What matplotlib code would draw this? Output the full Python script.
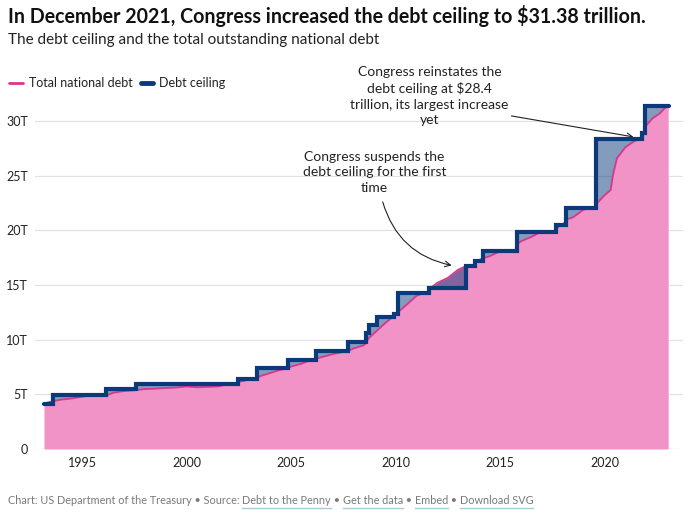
import numpy as np
import matplotlib
matplotlib.use("Agg")
import matplotlib.pyplot as plt
from matplotlib.lines import Line2D

# ---------------- data ----------------
debt_dates = [1993.18, 1993.5, 1994.0, 1994.5, 1995.0, 1995.5, 1996.0, 1996.17, 1996.5, 1997.0,
              1997.5, 1998.0, 1998.5, 1999.0, 1999.5, 2000.0, 2000.5, 2001.0, 2001.5, 2002.0,
              2002.42, 2002.55, 2003.0, 2003.36, 2003.5, 2004.0, 2004.5, 2004.87, 2005.0, 2005.5,
              2006.0, 2006.2, 2006.5, 2007.0, 2007.5, 2007.72, 2008.0, 2008.5, 2008.75, 2009.0,
              2009.5, 2010.0, 2010.5, 2011.0, 2011.37, 2011.58, 2011.7, 2012.0, 2012.5, 2013.0,
              2013.38, 2013.78, 2013.85, 2014.0, 2014.2, 2014.5, 2015.0, 2015.2, 2015.82, 2015.87,
              2016.0, 2016.5, 2017.0, 2017.2, 2017.68, 2017.75, 2018.0, 2018.2, 2018.5, 2019.0,
              2019.2, 2019.58, 2019.65, 2020.0, 2020.3, 2020.4, 2020.6, 2021.0, 2021.3, 2021.6,
              2021.8, 2021.9, 2022.0, 2022.3, 2022.65, 2022.9, 2023.05]
debt_values = [4.15, 4.33, 4.52, 4.62, 4.78, 4.92, 4.97, 4.9, 5.15, 5.3,
               5.37, 5.48, 5.52, 5.58, 5.62, 5.72, 5.65, 5.68, 5.72, 5.92,
               5.95, 6.15, 6.35, 6.4, 6.65, 6.95, 7.25, 7.38, 7.55, 7.8,
               8.17, 8.27, 8.42, 8.68, 8.87, 8.96, 9.2, 9.5, 10.2, 10.63,
               11.5, 12.3, 13.15, 14.0, 14.29, 14.34, 14.75, 15.2, 15.65, 16.4,
               16.74, 16.74, 17.08, 17.3, 17.45, 17.63, 18.08, 18.15, 18.15, 18.8,
               19.0, 19.4, 19.9, 19.85, 19.85, 20.3, 20.5, 21.0, 21.2, 21.9,
               22.0, 22.0, 22.5, 23.2, 23.7, 25.0, 26.6, 27.6, 28.0, 28.35,
               28.4, 28.9, 29.6, 30.25, 30.7, 31.2, 31.38]

ceiling_dates = [1993.18, 1993.6, 1996.17, 1997.6, 2002.45, 2003.38, 2004.88, 2006.21, 2007.73,
                 2008.57, 2008.75, 2009.12, 2009.95, 2010.12, 2011.59, 2013.38, 2013.79, 2014.17,
                 2015.83, 2017.69, 2018.17, 2019.59, 2021.8, 2021.96, 2023.08]
ceiling_values = [4.145, 4.9, 5.5, 5.95, 6.4, 7.384, 8.184, 8.965, 9.815,
                  10.615, 11.315, 12.104, 12.394, 14.294, 14.694, 16.699, 17.212, 18.113,
                  19.809, 20.456, 22.03, 28.401, 28.881, 31.381, 31.381]

y_ticks = [0, 5, 10, 15, 20, 25, 30]
y_tick_labels = ["0", "5T", "10T", "15T", "20T", "25T", "30T"]
x_ticks = [1995, 2000, 2005, 2010, 2015, 2020]

title = "In December 2021, Congress increased the debt ceiling to $31.38 trillion."
subtitle = "The debt ceiling and the total outstanding national debt"
note_reinstate = "Congress reinstates the\ndebt ceiling at $28.4\ntrillion, its largest increase\nyet"
note_suspend = "Congress suspends the\ndebt ceiling for the first\ntime"

# ---------------- style ----------------
FONT = "Lato"
plt.rcParams["font.family"] = [FONT, "DejaVu Sans"]
PINK_FILL = "#f193c6"
PINK_LINE = "#d9368e"
NAVY = "#0a3a7a"
GRID = "#e2e2e2"
TEXT = "#222222"
GREY = "#7a7a7a"

W, H = 689, 518
fig = plt.figure(figsize=(W / 100, H / 100), dpi=100)

x0, x1 = 35, 683
ybot, ytop = 449, 99.2
ax = fig.add_axes([x0 / W, (H - ybot) / H, (x1 - x0) / W, (ybot - ytop) / H])
ax.set_xlim(1992.75, 2023.76)
ax.set_ylim(0, 32)

for s in ax.spines.values():
    s.set_visible(False)
ax.set_yticks(y_ticks)
ax.set_yticklabels(y_tick_labels)
ax.set_xticks(x_ticks)
ax.set_xticklabels([str(x) for x in x_ticks])
ax.tick_params(axis="both", length=0, labelsize=9, labelcolor=TEXT)
ax.tick_params(axis="y", pad=5)
ax.tick_params(axis="x", pad=6)
ax.grid(axis="y", color=GRID, lw=0.9)
ax.set_axisbelow(True)

dd = np.array(debt_dates)
dv = np.array(debt_values)
cd = np.array(ceiling_dates)
cv = np.array(ceiling_values)

# pink area under debt
ax.fill_between(dd, 0, dv, color=PINK_FILL, lw=0, zorder=2)

# dense grid for the gap between ceiling and debt
grid = np.linspace(cd[0], cd[-1], 4000)
deb_g = np.interp(grid, dd, dv)
idx = np.searchsorted(cd, grid, side="right") - 1
ceil_g = cv[np.clip(idx, 0, len(cv) - 1)]
ax.fill_between(grid, deb_g, ceil_g, color=NAVY, alpha=0.5, lw=0, zorder=3)

ax.plot(dd, dv, color=PINK_LINE, lw=1.3, zorder=4)
ax.plot(cd, cv, drawstyle="steps-post", color=NAVY, lw=3.0,
        solid_capstyle="round", solid_joinstyle="miter", zorder=5)

# annotations
ax.text(2011.63, 32.3, note_reinstate, ha="center", va="center", fontsize=10,
        color=TEXT, linespacing=1.38, clip_on=False)
ax.annotate("", xy=(2021.39, 28.55), xytext=(2015.55, 30.47), annotation_clip=False,
            arrowprops=dict(arrowstyle="->", color="#222222", lw=0.8, shrinkA=0, shrinkB=0))
ax.text(2009.0, 25.3, note_suspend, ha="center", va="center", fontsize=10,
        color=TEXT, linespacing=1.38, clip_on=False)
ax.annotate("", xy=(2012.69, 16.8), xytext=(2009.39, 22.6), annotation_clip=False,
            arrowprops=dict(arrowstyle="->", color="#222222", lw=0.8, shrinkA=0, shrinkB=0,
                            connectionstyle="arc3,rad=0.3"))

# titles
fig.text(8 / W, 1 - 16 / H, title, fontsize=14.1, fontweight="bold", color="#111111",
         ha="left", va="center")
fig.text(8 / W, 1 - 40 / H, subtitle, fontsize=11, color="#222222", ha="left", va="center")

# legend
ly = 1 - 83 / H
fig.add_artist(Line2D([9 / W, 23 / W], [ly, ly], color=PINK_LINE, lw=2, solid_capstyle="round"))
fig.text(29 / W, ly, "Total national debt", fontsize=9, color=TEXT, ha="left", va="center")
fig.add_artist(Line2D([141 / W, 153 / W], [ly, ly], color=NAVY, lw=3.5, solid_capstyle="round"))
fig.text(159 / W, ly, "Debt ceiling", fontsize=9, color=TEXT, ha="left", va="center")

# footer with underlined links
pieces = [("Chart: US Department of the Treasury • Source: ", False),
          ("Debt to the Penny", True), (" • ", False), ("Get the data", True),
          (" • ", False), ("Embed", True), (" • ", False), ("Download SVG", True)]
renderer = fig.canvas.get_renderer()
xpos = 8
fy = 500
for txt, link in pieces:
    t = fig.text(xpos / W, 1 - fy / H, txt, fontsize=7.8, color=GREY, ha="left", va="center")
    bb = t.get_window_extent(renderer=renderer)
    if link:
        uy = 1 - (fy + 8) / H
        fig.add_artist(Line2D([xpos / W, (xpos + bb.width) / W], [uy, uy],
                              color="#a9cbd8", lw=1.0))
    xpos += bb.width

fig.savefig("out.png", dpi=100)
